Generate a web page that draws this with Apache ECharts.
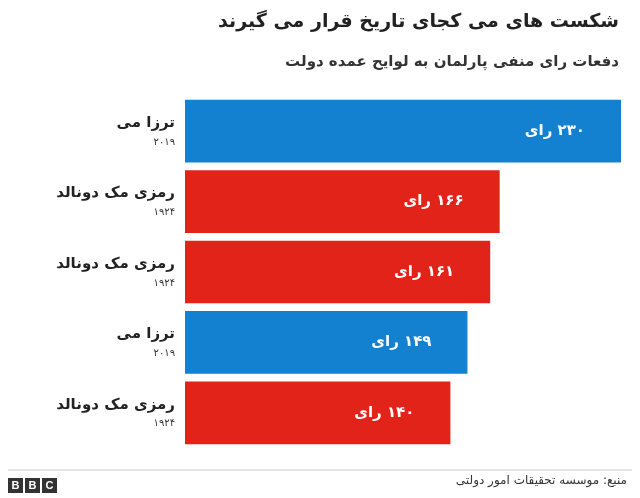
<!DOCTYPE html>
<html dir="rtl">
<head>
<meta charset="utf-8">
<script src="https://cdn.jsdelivr.net/npm/echarts@6/dist/echarts.min.js"></script>
<style>html,body{margin:0;padding:0;background:#fff}#main{width:640px;height:498px}</style>
</head>
<body>
<div id="main"></div>
<script>
// داده ها
const names = ["ترزا می", "رمزی مک دونالد", "رمزی مک دونالد", "ترزا می", "رمزی مک دونالد"];
const years = ["۲۰۱۹", "۱۹۲۴", "۱۹۲۴", "۲۰۱۹", "۱۹۲۴"];
const votes = [230, 166, 161, 149, 140];
const voteLabels = ["۲۳۰", "۱۶۶", "۱۶۱", "۱۴۹", "۱۴۰"];
const parties = ["blue", "red", "red", "blue", "red"];

const colors = { blue: "#1380d0", red: "#e2231a" };
const font = "DejaVu Sans";

let myChart = echarts.init(document.getElementById("main"));
myChart.setOption({
  textStyle: { fontFamily: font },
  title: [
    { text: "شکست های می کجای تاریخ قرار می گیرند", right: 16, top: 8,
      textStyle: { fontSize: 19, fontWeight: "bold", color: "#222", fontFamily: font } },
    { text: "دفعات رای منفی پارلمان به لوایح عمده دولت", right: 16, top: 50,
      textStyle: { fontSize: 15, fontWeight: "bold", color: "#333", fontFamily: font } },
    { text: "منبع: موسسه تحقیقات امور دولتی", right: 8, bottom: 6,
      textStyle: { fontSize: 12, fontWeight: "normal", color: "#333", fontFamily: font } }
  ],
  grid: { left: 185, right: 19, top: 96, bottom: 50 },
  xAxis: { type: "value", min: 0, max: 230, show: false },
  yAxis: {
    type: "category", inverse: true, data: names.map((n, i) => i),
    axisLine: { show: false }, axisTick: { show: false },
    axisLabel: {
      margin: 10, align: "right",
      formatter: v => "{n|" + names[v] + "}\n{y|" + years[v] + "}",
      rich: {
        n: { fontSize: 15, fontWeight: "bold", color: "#222", lineHeight: 22, align: "right", fontFamily: font },
        y: { fontSize: 10, color: "#333", lineHeight: 16, align: "right", fontFamily: font }
      }
    }
  },
  series: [{
    type: "bar", barCategoryGap: "11%",
    data: votes.map((v, i) => ({ value: v, itemStyle: { color: colors[parties[i]] } })),
    label: {
      show: true, position: "insideRight", distance: 36, color: "#fff",
      fontSize: 15, fontWeight: "bold", fontFamily: font,
      formatter: p => voteLabels[p.dataIndex] + " رای"
    }
  }],
  graphic: [
    { type: "line", shape: { x1: 8, y1: 470, x2: 632, y2: 470 }, style: { stroke: "#ccc", lineWidth: 1 } },
    ...[0, 1, 2].map(i => ({
      type: "group", left: 8 + i * 17, top: 478,
      children: [
        { type: "rect", shape: { width: 15, height: 15 }, style: { fill: "#333" } },
        { type: "text", x: 7.5, y: 7.5, style: { text: "B C".split(" ").concat(["C"])[i] === undefined ? "" : ["B", "B", "C"][i],
          fill: "#fff", fontSize: 11, fontWeight: "bold", fontFamily: "Liberation Sans", align: "center", verticalAlign: "middle" } }
      ]
    }))
  ]
});
</script>
</body>
</html>
